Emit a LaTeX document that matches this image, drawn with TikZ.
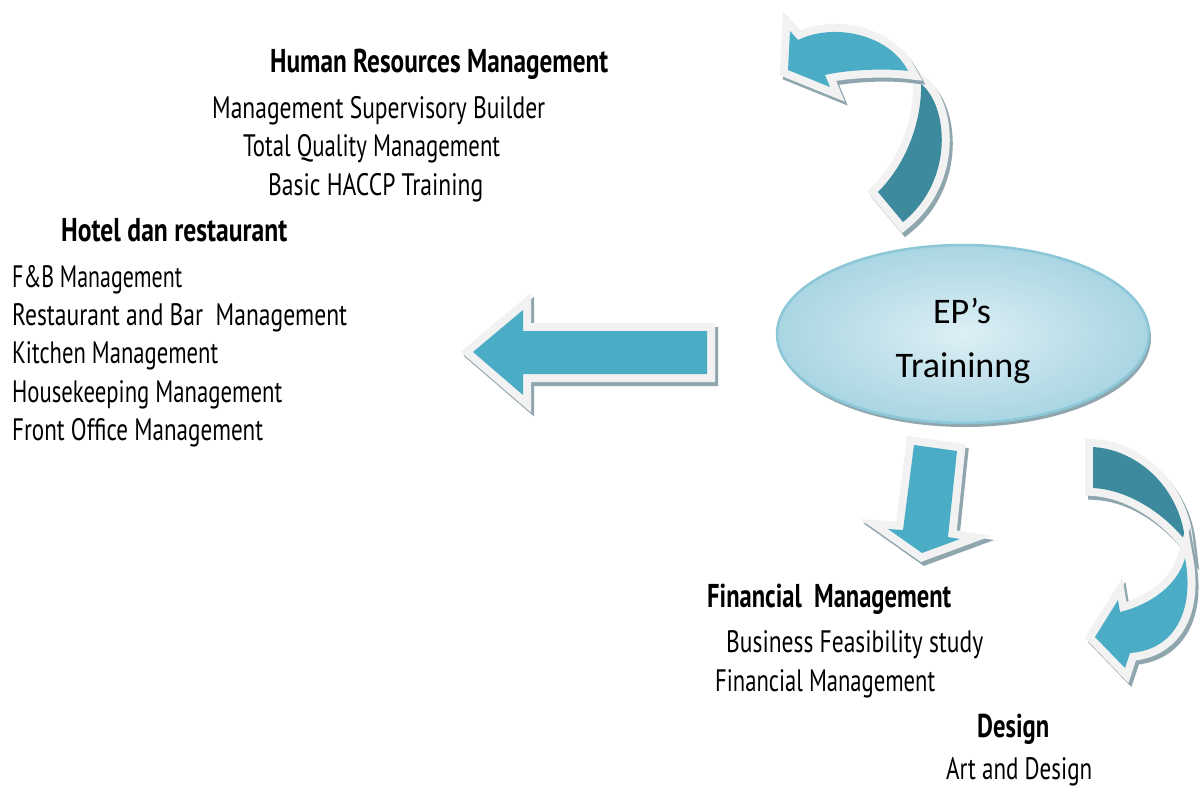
\documentclass[tikz,border=0pt]{standalone}
\usepackage{fontspec}
\usepackage{graphicx}
\usetikzlibrary{shapes.geometric}
\setmainfont{PT Sans}
\newfontfamily\ellfont{Carlito}
\definecolor{lightb}{HTML}{4BACC6}
\definecolor{darkb}{HTML}{3D8A9E}
\definecolor{bordc}{HTML}{F2F2F2}
\definecolor{shadc}{HTML}{8FA6AE}
\definecolor{ellin}{HTML}{DDEFF5}
\definecolor{ellout}{HTML}{A9D5E2}
\definecolor{elledge}{HTML}{8CC7D7}
\tikzset{
  shadowst/.style={draw=shadc, fill=shadc, line width=16pt, shift={(3,4)}},
  borderst/.style={draw=bordc, fill=bordc, line width=16pt},
  lab/.style={anchor=base west, inner sep=0pt, font=\fontsize{31}{31}\selectfont},
  blab/.style={anchor=base west, inner sep=0pt, font=\fontsize{33}{33}\selectfont\bfseries},
  elab/.style={anchor=base, inner sep=0pt, font=\ellfont\fontsize{36}{36}\selectfont},
}
\newcommand\fitw[2]{\resizebox{#1pt}{\height}{#2}}
\newcommand\apiece[2]{\path[shadowst] #2; \path[borderst] #2; \path[fill=#1] #2;}
\begin{document}
\begin{tikzpicture}[x=1pt,y=-1pt]
\useasboundingbox (0,0) rectangle (1203,789);
\fill[white] (0,0) rectangle (1203,789);

% central ellipse
\path[fill=shadc] (965,338) ellipse [x radius=186pt, y radius=89pt];
\node[ellipse, minimum width=372pt, minimum height=178pt, inner sep=0pt,
      draw=elledge, line width=2.5pt, inner color=ellin, outer color=ellout]
      (ep) at (963,334) {};
\node[elab] (ept) at (962,323) {EP’s};
\node[elab] (trt) at (963,377) {Traininng};

% left arrow
\apiece{lightb}{(473,352) -- (523,310) -- (523,331) -- (707,331) -- (707,374) -- (523,374) -- (523,395) -- cycle}

% down arrow
\apiece{lightb}{(914,445) -- (957,451) -- (948,537) -- (960,539) -- (922,553) -- (888,529) -- (903,530) -- cycle}

% top curved arrow: dark tail then light head
\apiece{darkb}{(921,84) .. controls (948,105) and (955,180) .. (903,222) -- (878,192) .. controls (910,160) and (922,115) .. (921,84) -- cycle}
\apiece{lightb}{(788,70) -- (790,31) -- (798,40) .. controls (835,22) and (890,35) .. (908,71) .. controls (885,68) and (845,70) .. (825,75) -- (830,87) -- cycle}

% bottom-right curved arrow: dark tail then light head
\apiece{darkb}{(1093,447) .. controls (1140,450) and (1180,490) .. (1185,540) .. controls (1165,515) and (1130,490) .. (1093,488) -- cycle}
\apiece{lightb}{(1185,558) .. controls (1195,610) and (1175,650) .. (1130,653) -- (1125,668) -- (1095,637) -- (1118,600) -- (1120,612) .. controls (1150,605) and (1178,585) .. (1185,558) -- cycle}

% Human resources
\node[blab] (hr) at (270,73) {\fitw{338}{Human Resources Management}};
\node[lab] (hr1) at (212,119) {\fitw{333}{Management Supervisory Builder}};
\node[lab] (hr2) at (243,157) {\fitw{257}{Total Quality Management}};
\node[lab] (hr3) at (268,195) {\fitw{215}{Basic HACCP Training}};

% Hotel
\node[blab] (ho) at (61,242) {\fitw{226}{Hotel dan restaurant}};
\node[lab] (ho1) at (12,287) {\fitw{170}{F\&B Management}};
\node[lab] (ho2) at (12,325) {\fitw{335}{Restaurant and Bar\ \ Management}};
\node[lab] (ho3) at (12,363) {\fitw{206}{Kitchen Management}};
\node[lab] (ho4) at (12,402) {\fitw{270}{Housekeeping Management}};
\node[lab] (ho5) at (12,440) {\fitw{251}{Front Office Management}};

% Financial
\node[blab] (fi) at (707,607) {\fitw{244}{Financial\ \ Management}};
\node[lab] (fi1) at (726,652) {\fitw{257}{Business Feasibility study}};
\node[lab] (fi2) at (715,691) {\fitw{220}{Financial Management}};

% Design
\node[blab] (de) at (977,737) {\fitw{72}{Design}};
\node[lab] (de1) at (946,779) {\fitw{146}{Art and Design}};
\end{tikzpicture}
\end{document}
